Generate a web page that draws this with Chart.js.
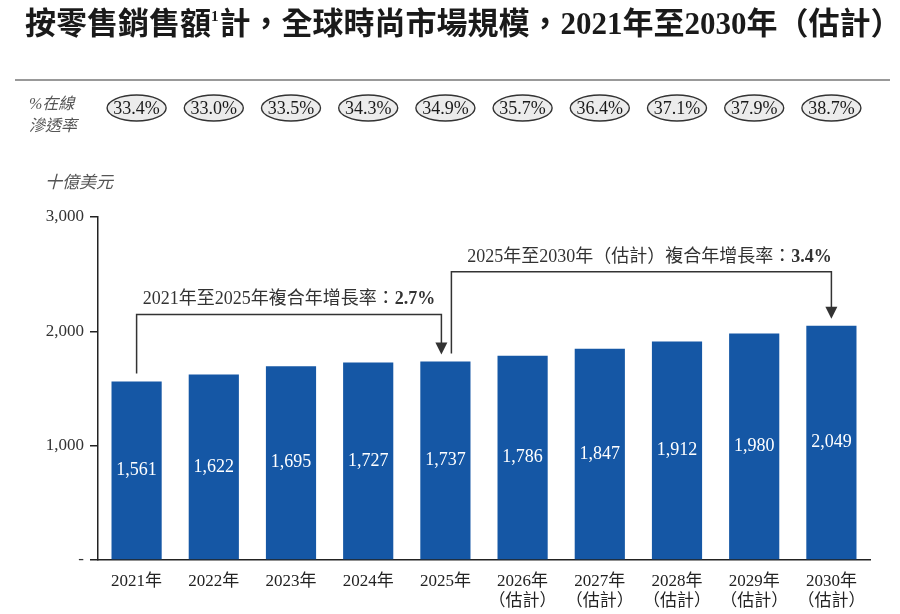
<!DOCTYPE html>
<html>
<head>
<meta charset="utf-8">
<script src="https://cdn.jsdelivr.net/npm/chart.js@4.4.1/dist/chart.umd.min.js"></script>
<style>
  html, body { margin: 0; padding: 0; background: #fff; }
  #wrap { width: 900px; height: 614px; position: relative; }
</style>
</head>
<body>
<div id="wrap"><canvas id="chart"></canvas></div>
<script>
// chart data
const years = ['2021年', '2022年', '2023年', '2024年', '2025年', '2026年', '2027年', '2028年', '2029年', '2030年'];
const estimated = [false, false, false, false, false, true, true, true, true, true];
const marketSize = [1561, 1622, 1695, 1727, 1737, 1786, 1847, 1912, 1980, 2049];
const penetration = ['33.4%', '33.0%', '33.5%', '34.3%', '34.9%', '35.7%', '36.4%', '37.1%', '37.9%', '38.7%'];
const yTicks = [0, 1000, 2000, 3000];
const cagrText = ['2021年至2025年複合年增長率：', '2025年至2030年（估計）複合年增長率：'];
const cagrValue = ['2.7%', '3.4%'];
const cagrFrom = [0, 4];
const cagrTo = [4, 9];

const SERIF = '"Liberation Serif", "Noto Sans CJK TC"';
const BAR_BLUE = '#1557a5';

const labels = years.map((y, i) => estimated[i] ? [y, '（估計）'] : y);

function arrowDown(ctx, x, y) {
    ctx.beginPath();
    ctx.moveTo(x, y);
    ctx.lineTo(x - 6, y - 12);
    ctx.lineTo(x + 6, y - 12);
    ctx.closePath();
    ctx.fill();
}

const decorations = {
    id: 'decorations',
    afterDatasetsDraw(chart) {
        const { ctx } = chart;
        const xs = chart.scales.x;
        const ys = chart.scales.y;
        ctx.save();

        // title
        ctx.fillStyle = '#1a1a1a';
        ctx.textBaseline = 'alphabetic';
        ctx.textAlign = 'left';
        let tx = 25;
        const parts = [
            { t: '按零售銷售額', f: 'bold 31px ' + SERIF, dy: 0 },
            { t: '1', f: 'bold 15px ' + SERIF, dy: -13 },
            { t: '計，全球時尚市場規模，2021年至2030年（估計）', f: 'bold 31px ' + SERIF, dy: 0 }
        ];
        parts.forEach(p => {
            ctx.font = p.f;
            ctx.fillText(p.t, tx, 34 + p.dy);
            tx += ctx.measureText(p.t).width + (p.t === '1' ? 1 : 0);
        });

        // separator line
        ctx.strokeStyle = '#999';
        ctx.lineWidth = 2;
        ctx.beginPath();
        ctx.moveTo(15, 80);
        ctx.lineTo(890, 80);
        ctx.stroke();

        // penetration row
        ctx.fillStyle = '#555';
        ctx.font = 'italic 16px ' + SERIF;
        ctx.fillText('%在線', 29, 109);
        ctx.fillText('滲透率', 29, 131);

        ctx.textAlign = 'center';
        ctx.textBaseline = 'middle';
        penetration.forEach((p, i) => {
            const cx = xs.getPixelForValue(i);
            ctx.beginPath();
            ctx.ellipse(cx, 108, 29.5, 13, 0, 0, Math.PI * 2);
            ctx.fillStyle = '#ececec';
            ctx.fill();
            ctx.strokeStyle = '#333';
            ctx.lineWidth = 1.4;
            ctx.stroke();
            ctx.fillStyle = '#1a1a1a';
            ctx.font = '18px ' + SERIF;
            ctx.fillText(p, cx, 109);
        });

        // unit label
        ctx.textAlign = 'left';
        ctx.textBaseline = 'alphabetic';
        ctx.fillStyle = '#555';
        ctx.font = 'italic 17px ' + SERIF;
        ctx.fillText('十億美元', 45, 188);

        // values inside bars
        const meta = chart.getDatasetMeta(0);
        ctx.textAlign = 'center';
        ctx.textBaseline = 'middle';
        ctx.fillStyle = '#fff';
        ctx.font = '18px ' + SERIF;
        meta.data.forEach((bar, i) => {
            const mid = (bar.y + bar.base) / 2;
            ctx.fillText(marketSize[i].toLocaleString('en-US'), bar.x, mid);
        });

        // CAGR brackets
        const lift = [47, 54];
        const xShift = [[0, -4], [6, 0]];
        ctx.strokeStyle = '#333';
        ctx.fillStyle = '#333';
        ctx.lineWidth = 1.5;
        cagrFrom.forEach((from, k) => {
            const to = cagrTo[k];
            const peak = Math.max(...marketSize.slice(from, to + 1));
            const topY = ys.getPixelForValue(peak) - lift[k];
            const x1 = xs.getPixelForValue(from) + xShift[k][0];
            const x2 = xs.getPixelForValue(to) + xShift[k][1];
            const y1 = ys.getPixelForValue(marketSize[from]) - 8;
            const y2 = ys.getPixelForValue(marketSize[to]) - 7;
            ctx.beginPath();
            ctx.moveTo(x1, y1);
            ctx.lineTo(x1, topY);
            ctx.lineTo(x2, topY);
            ctx.lineTo(x2, y2 - 10);
            ctx.stroke();
            arrowDown(ctx, x2, y2);

            // label
            ctx.textBaseline = 'alphabetic';
            ctx.textAlign = 'left';
            ctx.font = '18px ' + SERIF;
            const w1 = ctx.measureText(cagrText[k]).width;
            ctx.font = 'bold 18px ' + SERIF;
            const w2 = ctx.measureText(cagrValue[k]).width;
            const start = (x1 + x2) / 2 - (w1 + w2) / 2 + (k === 1 ? 8 : 0);
            ctx.fillStyle = '#333';
            ctx.font = '18px ' + SERIF;
            ctx.fillText(cagrText[k], start, topY - 10);
            ctx.font = 'bold 18px ' + SERIF;
            ctx.fillText(cagrValue[k], start + w1, topY - 10);
        });

        ctx.restore();
    }
};

new Chart(document.getElementById('chart'), {
    type: 'bar',
    data: {
        labels: labels,
        datasets: [{
            data: marketSize,
            backgroundColor: BAR_BLUE,
            categoryPercentage: 1,
            barPercentage: 0.65
        }]
    },
    options: {
        responsive: true,
        maintainAspectRatio: false,
        animation: false,
        layout: { padding: { top: 217, right: 30, bottom: 0, left: 0 } },
        plugins: {
            legend: { display: false },
            tooltip: { enabled: false }
        },
        scales: {
            x: {
                grid: { display: false },
                border: { color: '#222', width: 1.5 },
                ticks: {
                    color: '#222',
                    font: { family: SERIF, size: 17 },
                    padding: 3,
                    maxRotation: 0,
                    autoSkip: false
                },
                afterFit: (scale) => { scale.height = 54; }
            },
            y: {
                min: 0,
                max: 3000,
                afterBuildTicks: (scale) => { scale.ticks = yTicks.map(v => ({ value: v })); },
                grid: {
                    drawOnChartArea: false,
                    color: '#222',
                    tickLength: 8,
                    lineWidth: 1.5
                },
                border: { color: '#222', width: 1.5 },
                ticks: {
                    color: '#333',
                    font: { family: SERIF, size: 17 },
                    padding: 6,
                    callback: (v) => v === 0 ? '-' : v.toLocaleString('en-US')
                },
                afterFit: (scale) => { scale.width = 98; }
            }
        }
    },
    plugins: [decorations]
});
</script>
</body>
</html>
